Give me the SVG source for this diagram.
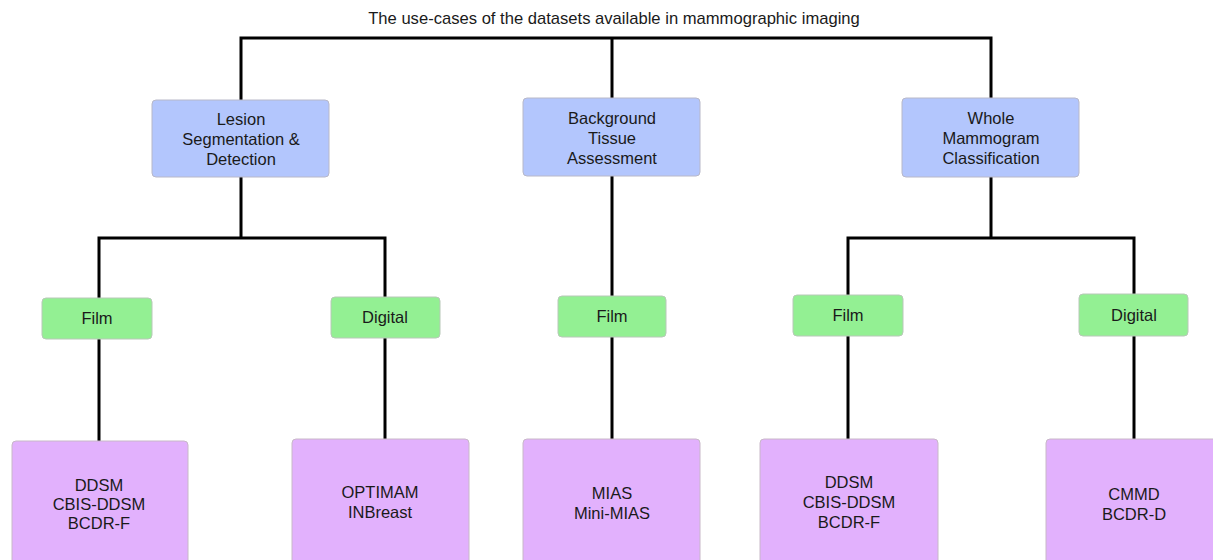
<svg xmlns="http://www.w3.org/2000/svg" width="1213" height="560" viewBox="0 0 1213 560">
<style>
text{font-family:"Liberation Sans",Arial,sans-serif;font-size:16.5px;fill:#1a1a1a;text-anchor:middle;dominant-baseline:central}
.blue{fill:#b3c6fd;stroke:#b8b8c8;stroke-width:1}
.green{fill:#93f093;stroke:#b8c8b8;stroke-width:1}
.purple{fill:#e2b1fd;stroke:#c8b8c8;stroke-width:1}
.con{fill:none;stroke:#000;stroke-width:3}
.title{font-size:16.6px}
</style>
<rect width="1213" height="560" fill="#fff"/>
<text class="title" x="614" y="18">The use-cases of the datasets available in mammographic imaging</text>
<g id="connectors">
<path class="con" d="M241,100 V38 H991 V98"/>
<path class="con" d="M612,38 V98"/>
<path class="con" d="M241,177 V238 M99,298 V238 H385 V297"/>
<path class="con" d="M99,339 V441"/>
<path class="con" d="M385,338 V439"/>
<path class="con" d="M612,176 V296 M612,337 V439"/>
<path class="con" d="M991,177 V238 M848,295 V238 H1134 V294"/>
<path class="con" d="M848,336 V439"/>
<path class="con" d="M1134,336 V439"/>
</g>
<g id="lesion"><rect class="blue" x="152" y="100" width="177" height="77" rx="4"/><text x="241" y="119">Lesion</text><text x="241" y="139">Segmentation &amp;</text><text x="241" y="159">Detection</text></g>
<g id="background"><rect class="blue" x="523" y="98" width="177" height="78" rx="4"/><text x="612" y="118">Background</text><text x="612" y="138">Tissue</text><text x="612" y="158">Assessment</text></g>
<g id="whole"><rect class="blue" x="902" y="98" width="177" height="79" rx="4"/><text x="991" y="118">Whole</text><text x="991" y="138">Mammogram</text><text x="991" y="158">Classification</text></g>
<g id="film1"><rect class="green" x="42" y="298" width="110" height="41" rx="4"/><text x="97" y="318">Film</text></g>
<g id="digital1"><rect class="green" x="331" y="297" width="109" height="41" rx="4"/><text x="385" y="317">Digital</text></g>
<g id="film2"><rect class="green" x="558" y="296" width="108" height="41" rx="4"/><text x="612" y="316">Film</text></g>
<g id="film3"><rect class="green" x="793" y="295" width="110" height="41" rx="4"/><text x="848" y="315">Film</text></g>
<g id="digital3"><rect class="green" x="1079" y="294" width="109" height="42" rx="4"/><text x="1134" y="315">Digital</text></g>
<g id="ds1"><rect class="purple" x="12" y="441" width="176" height="130" rx="4"/><text x="99" y="485">DDSM</text><text x="99" y="504">CBIS-DDSM</text><text x="99" y="523">BCDR-F</text></g>
<g id="ds2"><rect class="purple" x="292" y="439" width="177" height="132" rx="4"/><text x="380" y="492">OPTIMAM</text><text x="380" y="512">INBreast</text></g>
<g id="ds3"><rect class="purple" x="523" y="439" width="177" height="132" rx="4"/><text x="612" y="493">MIAS</text><text x="612" y="513">Mini-MIAS</text></g>
<g id="ds4"><rect class="purple" x="760" y="439" width="178" height="132" rx="4"/><text x="849" y="482">DDSM</text><text x="849" y="502">CBIS-DDSM</text><text x="849" y="522">BCDR-F</text></g>
<g id="ds5"><rect class="purple" x="1046" y="439" width="177" height="132" rx="4"/><text x="1134" y="494">CMMD</text><text x="1134" y="514">BCDR-D</text></g>
</svg>
